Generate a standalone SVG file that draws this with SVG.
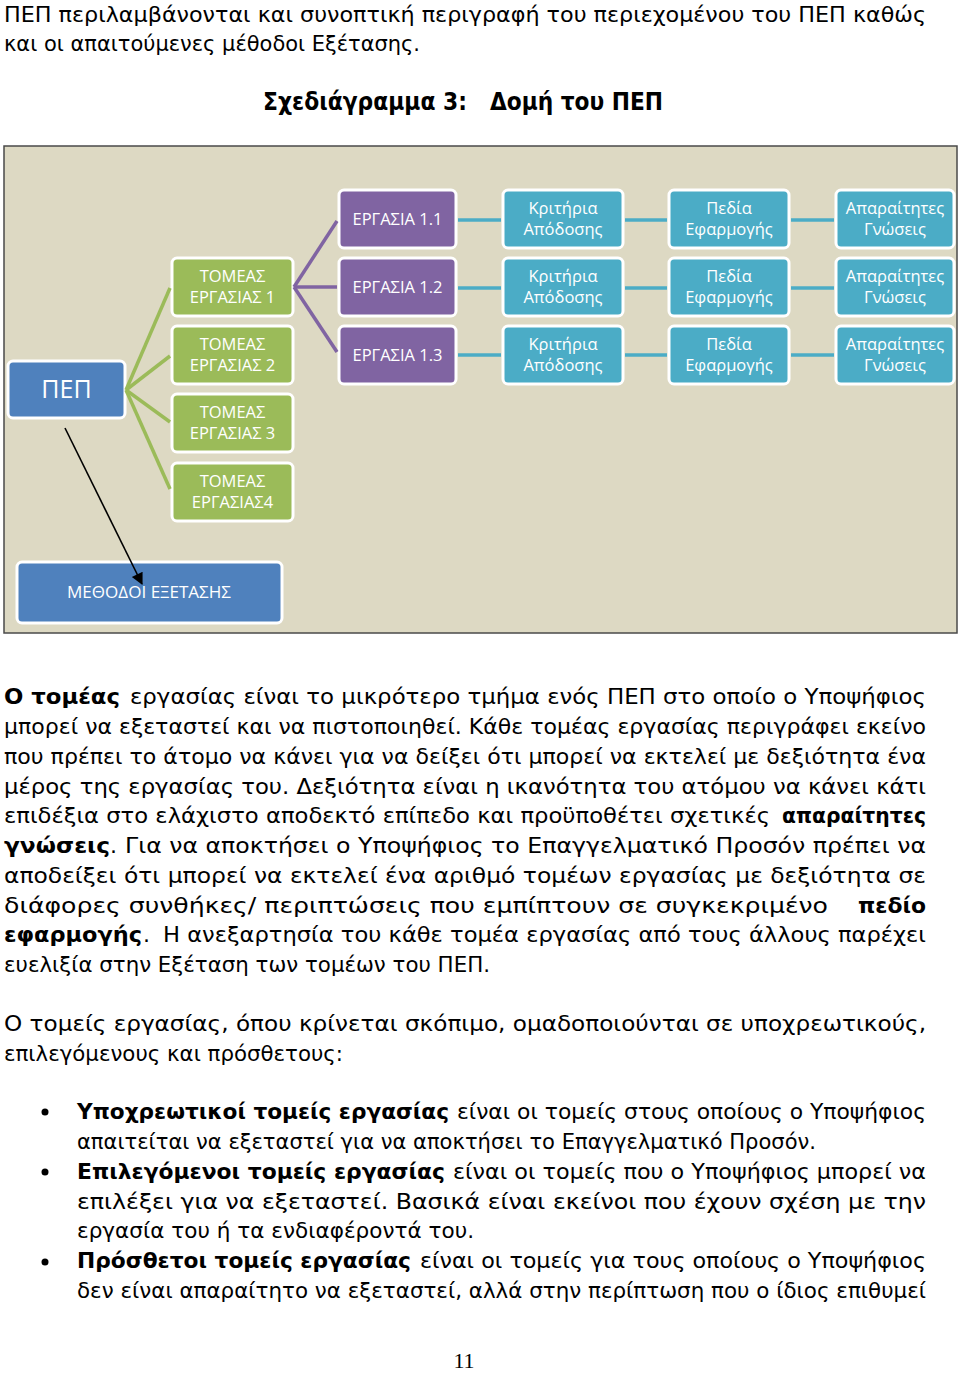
<svg xmlns="http://www.w3.org/2000/svg" width="960" height="1373" viewBox="0 0 960 1373">
<style>
.t{font-family:"DejaVu Sans","Noto Sans",sans-serif;font-size:22px;fill:#000}
.b{font-weight:bold}
.ttl{font-family:"DejaVu Sans","Noto Sans",sans-serif;font-size:24px;font-weight:bold;fill:#000}
.n rect{stroke:#fff;stroke-width:3}
.n text{font-family:"Open Sans","Noto Sans",sans-serif;font-size:16.5px;fill:#fff;text-anchor:middle}
.blue{fill:#4f81bd}.green{fill:#9bbb59}.purple{fill:#8064a2}.teal{fill:#4bacc6}
.cg{stroke:#9bbb59;stroke-width:3.5;fill:none}
.cp{stroke:#8064a2;stroke-width:3.5;fill:none}
.ct{stroke:#4bacc6;stroke-width:3.5;fill:none}
.pg{font-family:"Liberation Serif",serif;font-size:22px;fill:#000;text-anchor:middle}
</style>
<defs>
<marker id="ah" viewBox="0 0 10 10" refX="9" refY="5" markerWidth="15" markerHeight="12" orient="auto" markerUnits="userSpaceOnUse">
<path d="M0,0 L10,5 L0,10 z" fill="#000"/>
</marker>
</defs>
<rect x="0" y="0" width="960" height="1373" fill="#fff"/>

<!-- top text -->
<text class="t" x="4" y="22" textLength="922" lengthAdjust="spacingAndGlyphs">ΠΕΠ περιλαμβάνονται και συνοπτική περιγραφή του περιεχομένου του ΠΕΠ καθώς</text>
<text class="t" x="4" y="51" textLength="416" lengthAdjust="spacingAndGlyphs">και οι απαιτούμενες μέθοδοι Εξέτασης.</text>
<text class="ttl" x="263" y="110" textLength="204" lengthAdjust="spacingAndGlyphs">Σχεδιάγραμμα 3:</text>
<text class="ttl" x="490" y="110" textLength="173" lengthAdjust="spacingAndGlyphs">Δομή του ΠΕΠ</text>

<!-- diagram frame -->
<rect x="4" y="146" width="953" height="487" fill="#ddd9c3" stroke="#4a4a4a" stroke-width="1.5"/>

<g id="pep" class="n"><rect class="blue" x="8" y="361" width="117" height="57" rx="5"/><text x="66.5" y="398" style="font-size:25px">ΠΕΠ</text></g>

<g id="tomeas1" class="n"><rect class="green" x="172" y="258" width="121" height="58" rx="5"/><text x="232.5" y="282">ΤΟΜΕΑΣ</text><text x="232.5" y="303">ΕΡΓΑΣΙΑΣ 1</text></g>
<g id="tomeas2" class="n"><rect class="green" x="172" y="326" width="121" height="58" rx="5"/><text x="232.5" y="350">ΤΟΜΕΑΣ</text><text x="232.5" y="371">ΕΡΓΑΣΙΑΣ 2</text></g>
<g id="tomeas3" class="n"><rect class="green" x="172" y="394" width="121" height="58" rx="5"/><text x="232.5" y="418">ΤΟΜΕΑΣ</text><text x="232.5" y="439">ΕΡΓΑΣΙΑΣ 3</text></g>
<g id="tomeas4" class="n"><rect class="green" x="172" y="463" width="121" height="58" rx="5"/><text x="232.5" y="487">ΤΟΜΕΑΣ</text><text x="232.5" y="508">ΕΡΓΑΣΙΑΣ4</text></g>

<g id="ergasia11" class="n"><rect class="purple" x="339" y="190" width="117" height="58" rx="5"/><text x="397.5" y="225">ΕΡΓΑΣΙΑ 1.1</text></g>
<g id="ergasia12" class="n"><rect class="purple" x="339" y="258" width="117" height="58" rx="5"/><text x="397.5" y="293">ΕΡΓΑΣΙΑ 1.2</text></g>
<g id="ergasia13" class="n"><rect class="purple" x="339" y="326" width="117" height="58" rx="5"/><text x="397.5" y="361">ΕΡΓΑΣΙΑ 1.3</text></g>

<g id="kritiria1" class="n"><rect class="teal" x="503" y="190" width="120" height="58" rx="5"/><text x="563" y="214">Κριτήρια</text><text x="563" y="235">Απόδοσης</text></g>
<g id="kritiria2" class="n"><rect class="teal" x="503" y="258" width="120" height="58" rx="5"/><text x="563" y="282">Κριτήρια</text><text x="563" y="303">Απόδοσης</text></g>
<g id="kritiria3" class="n"><rect class="teal" x="503" y="326" width="120" height="58" rx="5"/><text x="563" y="350">Κριτήρια</text><text x="563" y="371">Απόδοσης</text></g>

<g id="pedia1" class="n"><rect class="teal" x="669" y="190" width="120" height="58" rx="5"/><text x="729" y="214">Πεδία</text><text x="729" y="235">Εφαρμογής</text></g>
<g id="pedia2" class="n"><rect class="teal" x="669" y="258" width="120" height="58" rx="5"/><text x="729" y="282">Πεδία</text><text x="729" y="303">Εφαρμογής</text></g>
<g id="pedia3" class="n"><rect class="teal" x="669" y="326" width="120" height="58" rx="5"/><text x="729" y="350">Πεδία</text><text x="729" y="371">Εφαρμογής</text></g>

<g id="gnoseis1" class="n"><rect class="teal" x="836" y="190" width="118" height="58" rx="5"/><text x="895" y="214">Απαραίτητες</text><text x="895" y="235">Γνώσεις</text></g>
<g id="gnoseis2" class="n"><rect class="teal" x="836" y="258" width="118" height="58" rx="5"/><text x="895" y="282">Απαραίτητες</text><text x="895" y="303">Γνώσεις</text></g>
<g id="gnoseis3" class="n"><rect class="teal" x="836" y="326" width="118" height="58" rx="5"/><text x="895" y="350">Απαραίτητες</text><text x="895" y="371">Γνώσεις</text></g>

<g id="methodoi" class="n"><rect class="blue" x="17" y="562" width="265" height="61" rx="5"/><text x="149" y="598" textLength="164" lengthAdjust="spacingAndGlyphs">ΜΕΘΟΔΟΙ ΕΞΕΤΑΣΗΣ</text></g>

<g id="connectors">
<line class="cg" x1="126" y1="390" x2="170" y2="288"/>
<line class="cg" x1="126" y1="390" x2="170" y2="356"/>
<line class="cg" x1="126" y1="390" x2="170" y2="422"/>
<line class="cg" x1="126" y1="390" x2="170" y2="489"/>
<line class="cp" x1="294" y1="287" x2="337" y2="221"/>
<line class="cp" x1="294" y1="287" x2="337" y2="287"/>
<line class="cp" x1="294" y1="287" x2="337" y2="352"/>
<line class="ct" x1="458" y1="220" x2="501" y2="220"/>
<line class="ct" x1="458" y1="288" x2="501" y2="288"/>
<line class="ct" x1="458" y1="355" x2="501" y2="355"/>
<line class="ct" x1="625" y1="220" x2="667" y2="220"/>
<line class="ct" x1="625" y1="288" x2="667" y2="288"/>
<line class="ct" x1="625" y1="355" x2="667" y2="355"/>
<line class="ct" x1="791" y1="220" x2="834" y2="220"/>
<line class="ct" x1="791" y1="288" x2="834" y2="288"/>
<line class="ct" x1="791" y1="355" x2="834" y2="355"/>
<line x1="65" y1="428" x2="142" y2="584" stroke="#000" stroke-width="1.6" marker-end="url(#ah)"/>
</g>

<!-- paragraph 1 -->
<text class="t b" x="4" y="704" textLength="116" lengthAdjust="spacingAndGlyphs">Ο τομέας</text>
<text class="t" x="130" y="704" textLength="796" lengthAdjust="spacingAndGlyphs">εργασίας είναι το μικρότερο τμήμα ενός ΠΕΠ στο οποίο ο Υποψήφιος</text>
<text class="t" x="4" y="734" textLength="922" lengthAdjust="spacingAndGlyphs">μπορεί να εξεταστεί και να πιστοποιηθεί. Κάθε τομέας εργασίας περιγράφει εκείνο</text>
<text class="t" x="4" y="764" textLength="922" lengthAdjust="spacingAndGlyphs">που πρέπει το άτομο να κάνει για να δείξει ότι μπορεί να εκτελεί με δεξιότητα ένα</text>
<text class="t" x="4" y="794" textLength="922" lengthAdjust="spacingAndGlyphs">μέρος της εργασίας του. Δεξιότητα είναι η ικανότητα του ατόμου να κάνει κάτι</text>
<text class="t" x="4" y="823" textLength="766" lengthAdjust="spacingAndGlyphs">επιδέξια στο ελάχιστο αποδεκτό επίπεδο και προϋποθέτει σχετικές</text>
<text class="t b" x="782" y="823" textLength="144" lengthAdjust="spacingAndGlyphs">απαραίτητες</text>
<text class="t b" x="4" y="853" textLength="106" lengthAdjust="spacingAndGlyphs">γνώσεις</text>
<text class="t" x="110" y="853">.</text>
<text class="t" x="125" y="853" textLength="801" lengthAdjust="spacingAndGlyphs">Για να αποκτήσει ο Υποψήφιος το Επαγγελματικό Προσόν πρέπει να</text>
<text class="t" x="4" y="883" textLength="922" lengthAdjust="spacingAndGlyphs">αποδείξει ότι μπορεί να εκτελεί ένα αριθμό τομέων εργασίας με δεξιότητα σε</text>
<text class="t" x="4" y="913" textLength="824" lengthAdjust="spacingAndGlyphs">διάφορες συνθήκες/ περιπτώσεις που εμπίπτουν σε συγκεκριμένο</text>
<text class="t b" x="858" y="913" textLength="68" lengthAdjust="spacingAndGlyphs">πεδίο</text>
<text class="t b" x="4" y="942" textLength="138" lengthAdjust="spacingAndGlyphs">εφαρμογής</text>
<text class="t" x="143" y="942">.</text>
<text class="t" x="163" y="942" textLength="763" lengthAdjust="spacingAndGlyphs">Η ανεξαρτησία του κάθε τομέα εργασίας από τους άλλους παρέχει</text>
<text class="t" x="4" y="972" textLength="486" lengthAdjust="spacingAndGlyphs">ευελιξία στην Εξέταση των τομέων του ΠΕΠ.</text>

<!-- paragraph 2 -->
<text class="t" x="4" y="1031" textLength="922" lengthAdjust="spacingAndGlyphs">Ο τομείς εργασίας, όπου κρίνεται σκόπιμο, ομαδοποιούνται σε υποχρεωτικούς,</text>
<text class="t" x="4" y="1061" textLength="339" lengthAdjust="spacingAndGlyphs">επιλεγόμενους και πρόσθετους:</text>

<!-- bullets -->
<circle cx="45" cy="1112" r="3.5" fill="#000"/>
<circle cx="45" cy="1172" r="3.5" fill="#000"/>
<circle cx="45" cy="1262" r="3.5" fill="#000"/>
<text class="t b" x="77" y="1119" textLength="372" lengthAdjust="spacingAndGlyphs">Υποχρεωτικοί τομείς εργασίας</text>
<text class="t" x="457" y="1119" textLength="469" lengthAdjust="spacingAndGlyphs">είναι οι τομείς στους οποίους ο Υποψήφιος</text>
<text class="t" x="77" y="1149" textLength="739" lengthAdjust="spacingAndGlyphs">απαιτείται να εξεταστεί για να αποκτήσει το Επαγγελματικό Προσόν.</text>
<text class="t b" x="77" y="1179" textLength="368" lengthAdjust="spacingAndGlyphs">Επιλεγόμενοι τομείς εργασίας</text>
<text class="t" x="453" y="1179" textLength="473" lengthAdjust="spacingAndGlyphs">είναι οι τομείς που ο Υποψήφιος μπορεί να</text>
<text class="t" x="77" y="1209" textLength="849" lengthAdjust="spacingAndGlyphs">επιλέξει για να εξεταστεί. Βασικά είναι εκείνοι που έχουν σχέση με την</text>
<text class="t" x="77" y="1238" textLength="397" lengthAdjust="spacingAndGlyphs">εργασία του ή τα ενδιαφέροντά του.</text>
<text class="t b" x="77" y="1268" textLength="334" lengthAdjust="spacingAndGlyphs">Πρόσθετοι τομείς εργασίας</text>
<text class="t" x="420" y="1268" textLength="506" lengthAdjust="spacingAndGlyphs">είναι οι τομείς για τους οποίους ο Υποψήφιος</text>
<text class="t" x="77" y="1298" textLength="849" lengthAdjust="spacingAndGlyphs">δεν είναι απαραίτητο να εξεταστεί, αλλά στην περίπτωση που ο ίδιος επιθυμεί</text>

<text class="pg" x="464" y="1368">11</text>
</svg>
